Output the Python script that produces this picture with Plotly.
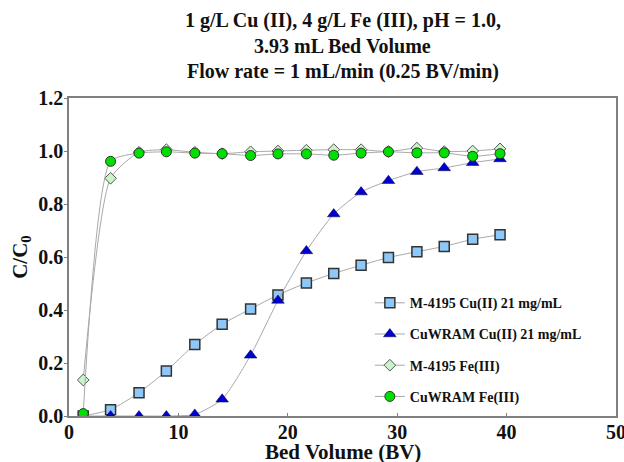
import plotly.graph_objects as go

bv = [1.3, 3.8, 6.4, 8.9, 11.5, 14.0, 16.6, 19.1, 21.7, 24.2, 26.7, 29.2, 31.8, 34.3, 36.9, 39.4]
m4195_cu = [0.0, 0.024, 0.088, 0.17, 0.27, 0.346, 0.404, 0.457, 0.502, 0.538, 0.569, 0.598, 0.62, 0.64, 0.667, 0.684]
cuwram_cu = [0.0, 0.0, 0.0, 0.0, 0.006, 0.063, 0.229, 0.436, 0.623, 0.762, 0.845, 0.888, 0.922, 0.936, 0.956, 0.97]
m4195_fe = [0.136, 0.897, 0.995, 1.005, 0.995, 0.99, 0.997, 1.0, 1.003, 1.005, 1.005, 0.998, 1.011, 0.998, 1.0, 1.008]
cuwram_fe = [0.009, 0.961, 0.992, 0.997, 0.992, 0.99, 0.983, 0.989, 0.989, 0.984, 0.992, 0.997, 0.993, 0.993, 0.98, 0.99]

names = ["M-4195 Cu(II) 21 mg/mL", "CuWRAM Cu(II) 21 mg/mL", "M-4195 Fe(III)", "CuWRAM Fe(III)"]
title_lines = ["1 g/L Cu (II), 4 g/L Fe (III), pH = 1.0,", "3.93 mL Bed Volume", "Flow rate = 1 mL/min (0.25 BV/min)"]
title_y = [1.245, 1.163, 1.082]
xticks = [0, 10, 20, 30, 40, 50]
yticks = [0.0, 0.2, 0.4, 0.6, 0.8, 1.0, 1.2]

FONT = "Liberation Serif"
TXT = "#111111"
line_style = dict(color="#a8a8a8", width=1, shape="spline", smoothing=0.6)

mk_sq = dict(symbol="square", size=10, color="#8ec8f8", line=dict(color="#333333", width=1.5))
mk_tri = dict(symbol="triangle-up", size=11, color="#0000d0", line=dict(color="#000040", width=0.5))
mk_dia = dict(symbol="diamond", size=9, color="#c8f5c8", line=dict(color="#555555", width=1))
mk_cir = dict(symbol="circle", size=10, color="#00e000", line=dict(color="#333333", width=1))

fig = go.Figure()
series = [m4195_cu, cuwram_cu, m4195_fe, cuwram_fe]
for i, (n, ys, mk) in enumerate(zip(names, series, [mk_sq, mk_tri, mk_dia, mk_cir])):
    fig.add_trace(go.Scatter(x=bv, y=ys, name="<b>" + n + "</b>", mode="lines+markers",
                             legendgroup=f"g{i}", line=line_style, marker=mk))

for t, yy in zip(title_lines, title_y):
    fig.add_annotation(text="<b>" + t + "</b>", x=0.5, y=yy, xref="paper", yref="paper",
                       xanchor="center", yanchor="middle", showarrow=False,
                       font=dict(family=FONT, size=20, color=TXT))

fig.add_annotation(text="<b>Bed Volume (BV)</b>", x=0.5, y=-0.114, xref="paper", yref="paper",
                   xanchor="center", yanchor="middle", showarrow=False,
                   font=dict(family=FONT, size=21, color=TXT))
fig.add_annotation(text="<b>C/C<sub>0</sub></b>", x=-0.088, y=0.5, xref="paper", yref="paper",
                   xanchor="center", yanchor="middle", showarrow=False, textangle=-90,
                   font=dict(family=FONT, size=21, color=TXT))

fig.update_layout(
    width=624, height=462,
    margin=dict(l=69, r=8, t=98, b=46),
    paper_bgcolor="white", plot_bgcolor="white",
    font=dict(family=FONT, color=TXT),
    legend=dict(x=0.55, y=0.405, xanchor="left", yanchor="top",
                bgcolor="rgba(0,0,0,0)", borderwidth=0,
                font=dict(family=FONT, size=14, color=TXT),
                tracegroupgap=10),
    showlegend=True,
)
fig.update_xaxes(range=[0, 50], tickvals=xticks, ticktext=[f"<b>{v}</b>" for v in xticks],
                 showgrid=False, zeroline=False, showline=True, mirror=True, automargin=False,
                 linecolor="#808080", linewidth=1.5, ticks="inside", ticklen=3,
                 ticklabelstandoff=-3, ticklabeloverflow="allow",
                 tickcolor="#808080", tickfont=dict(family=FONT, size=20, color=TXT))
fig.update_yaxes(range=[0, 1.2], tickvals=yticks, ticktext=[f"<b>{v:.1f}</b>" for v in yticks],
                 showgrid=False, zeroline=False, showline=True, mirror=True, automargin=False,
                 linecolor="#808080", linewidth=1.5, ticks="outside", ticklen=3,
                 ticklabelstandoff=-3, ticklabeloverflow="allow",
                 tickcolor="#808080", tickfont=dict(family=FONT, size=20, color=TXT))

fig.write_html("out.html")
